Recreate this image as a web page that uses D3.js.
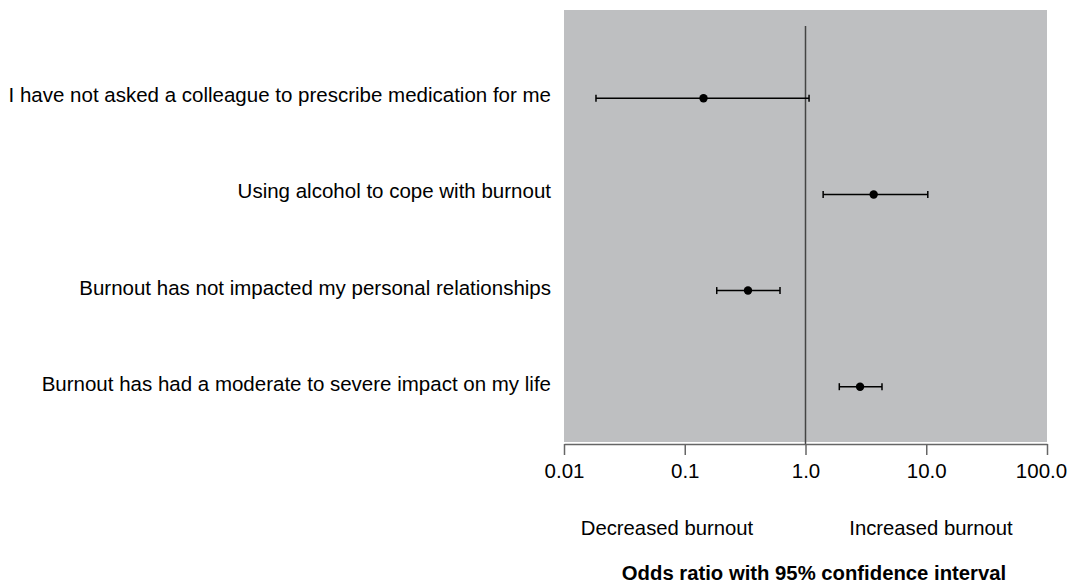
<!DOCTYPE html>
<html>
<head>
<meta charset="utf-8">
<script src="https://cdn.jsdelivr.net/npm/d3@7"></script>
<style>
  body { margin: 0; background: #fff; }
  text { font-family: Arial, "Liberation Sans", sans-serif; }
</style>
</head>
<body>
<svg id="chart"></svg>
<script>
let width = 1069;
let height = 585;

// data
const labels = [
  "I have not asked a colleague to prescribe medication for me",
  "Using alcohol to cope with burnout",
  "Burnout has not impacted my personal relationships",
  "Burnout has had a moderate to severe impact on my life"
];
const oddsRatio = [0.143, 3.67, 0.334, 2.83];
const lowerCI = [0.0184, 1.40, 0.184, 1.905];
const upperCI = [1.07, 10.3, 0.615, 4.30];
const tickValues = [0.01, 0.1, 1, 10, 100];
const tickLabels = ["0.01", "0.1", "1.0", "10.0", "100.0"];

const data = labels.map((l, i) => ({label: l, or: oddsRatio[i], lo: lowerCI[i], hi: upperCI[i]}));

let plotLeft = 564, plotRight = 1047, plotTop = 10, plotBottom = 442, axisY = 444;

const svg = d3.select("#chart")
  .attr("width", width)
  .attr("height", height);

let xScale = d3.scaleLog()
  .domain([0.01, 100])
  .range([plotLeft, plotRight]);

let yScale = d3.scalePoint()
  .domain(labels)
  .range([98.3, 386.7]);

// grey panel
svg.append("rect")
  .attr("x", plotLeft)
  .attr("y", plotTop)
  .attr("width", plotRight - plotLeft)
  .attr("height", plotBottom - plotTop)
  .attr("fill", "#bebfc1");

// line of no effect
svg.append("line")
  .attr("x1", xScale(1)).attr("x2", xScale(1))
  .attr("y1", 26).attr("y2", axisY)
  .attr("stroke", "#444")
  .attr("stroke-width", 1.5);

// x axis
let xAxis = d3.axisBottom(xScale)
  .tickValues(tickValues)
  .tickFormat((d, i) => tickLabels[i])
  .tickSize(11)
  .tickSizeOuter(0)
  .tickPadding(8);

const gx = svg.append("g")
  .attr("transform", "translate(0," + axisY + ")")
  .call(xAxis);
gx.select(".domain").attr("stroke", "#666").attr("stroke-width", 1.5);
gx.selectAll(".tick line").attr("stroke", "#666").attr("stroke-width", 1.5);
gx.selectAll(".tick text")
  .attr("fill", "#000")
  .style("font-size", "20.5px")
  .attr("font-family", "Arial, 'Liberation Sans', sans-serif")
  .attr("dx", (d, i) => i == tickValues.length - 1 ? -6 : 0);

// row labels
svg.selectAll(".rowlabel")
  .data(data)
  .enter()
  .append("text")
  .attr("class", "rowlabel")
  .attr("x", 551)
  .attr("y", d => yScale(d.label) + 4)
  .attr("text-anchor", "end")
  .style("font-size", "20.5px")
  .text(d => d.label);

// confidence intervals
const rows = svg.selectAll(".row")
  .data(data)
  .enter()
  .append("g")
  .attr("class", "row");

rows.append("line")
  .attr("x1", d => xScale(d.lo))
  .attr("x2", d => xScale(d.hi))
  .attr("y1", d => yScale(d.label))
  .attr("y2", d => yScale(d.label))
  .attr("stroke", "#000")
  .attr("stroke-width", 1.5);

rows.append("line")
  .attr("x1", d => xScale(d.lo))
  .attr("x2", d => xScale(d.lo))
  .attr("y1", d => yScale(d.label) - 3.5)
  .attr("y2", d => yScale(d.label) + 3.5)
  .attr("stroke", "#000")
  .attr("stroke-width", 1.5);

rows.append("line")
  .attr("x1", d => xScale(d.hi))
  .attr("x2", d => xScale(d.hi))
  .attr("y1", d => yScale(d.label) - 3.5)
  .attr("y2", d => yScale(d.label) + 3.5)
  .attr("stroke", "#000")
  .attr("stroke-width", 1.5);

rows.append("circle")
  .attr("cx", d => xScale(d.or))
  .attr("cy", d => yScale(d.label))
  .attr("r", 4.2)
  .attr("fill", "#000");

// direction labels
svg.append("text")
  .attr("x", 667).attr("y", 535)
  .attr("text-anchor", "middle")
  .style("font-size", "20.3px")
  .text("Decreased burnout");

svg.append("text")
  .attr("x", 931).attr("y", 535)
  .attr("text-anchor", "middle")
  .style("font-size", "20.3px")
  .text("Increased burnout");

svg.append("text")
  .attr("x", 814).attr("y", 580)
  .attr("text-anchor", "middle")
  .style("font-size", "20.3px")
  .style("font-weight", "bold")
  .text("Odds ratio with 95% confidence interval");
</script>
</body>
</html>
